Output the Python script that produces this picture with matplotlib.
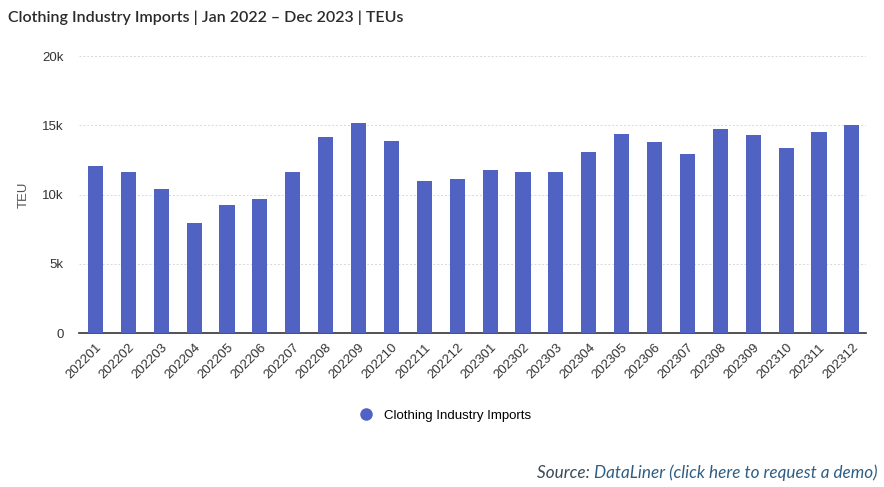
import matplotlib
matplotlib.use("Agg")
import matplotlib.pyplot as plt
from matplotlib.ticker import FuncFormatter
from matplotlib.lines import Line2D
from matplotlib.text import Annotation

months = ["202201", "202202", "202203", "202204", "202205", "202206",
          "202207", "202208", "202209", "202210", "202211", "202212",
          "202301", "202302", "202303", "202304", "202305", "202306",
          "202307", "202308", "202309", "202310", "202311", "202312"]
teus = [12070, 11660, 10430, 7980, 9280, 9710,
        11660, 14120, 15130, 13830, 10950, 11100,
        11750, 11600, 11600, 13090, 14340, 13810,
        12950, 14750, 14270, 13380, 14530, 15040]
series_name = "Clothing Industry Imports"
title = "Clothing Industry Imports | Jan 2022 \u2013 Dec 2023 | TEUs"

bar_color = "#5163c2"

fig = plt.figure(figsize=(8.84, 4.87), dpi=100)
ax = fig.add_axes([0.0894, 0.316, 0.8906, 0.569])

x = list(range(len(months)))
ax.bar(x, teus, width=0.46, color=bar_color, zorder=3)

ax.set_xlim(-0.5, len(months) - 0.56)
ax.set_ylim(0, 20000)
ax.set_yticks([0, 5000, 10000, 15000, 20000])
ax.yaxis.set_major_formatter(FuncFormatter(lambda v, p: "0" if v == 0 else f"{int(v/1000)}k"))
ax.grid(axis="y", color="#d8d8d8", linestyle=(0, (2, 2)), linewidth=0.7, zorder=0)

for s in ["top", "right", "left"]:
    ax.spines[s].set_visible(False)
ax.spines["bottom"].set_color("#333333")
ax.spines["bottom"].set_linewidth(1.2)

ax.tick_params(axis="y", length=0, pad=11, labelsize=9.5, labelcolor="#333333")
ax.tick_params(axis="x", length=0, pad=6, labelsize=9.5, labelcolor="#333333")
ax.set_xticks(x)
ax.set_xticklabels(months, rotation=45, ha="right", rotation_mode="anchor",
                   family="Liberation Sans")
for lbl in ax.get_yticklabels():
    lbl.set_family("Liberation Sans")

ax.set_ylabel("TEU", fontsize=9.5, color="#555555", family="Liberation Sans")
ax.yaxis.set_label_coords(-0.062, 0.5)

fig.text(0.009, 0.963, title, fontsize=11.5, color="#2b2b2b", family="Lato",
         weight="semibold", ha="left", va="center")

handle = Line2D([], [], marker="o", linestyle="none", markersize=8,
                markerfacecolor=bar_color, markeredgecolor=bar_color)
fig.legend([handle], [series_name], loc="center", bbox_to_anchor=(0.5, 0.146),
           frameon=False, handletextpad=0.3,
           prop={"family": "Liberation Sans", "size": 9.5})

t_link = fig.text(0.993, 0.029, "DataLiner (click here to request a demo)",
                  fontsize=12.3, color="#2f5e84", style="italic", family="Lato",
                  ha="right", va="center")
a = Annotation("Source: ", xy=(0, 0.5), xycoords=t_link, ha="right", va="center",
               fontsize=12.3, color="#3c4a57", style="italic", family="Lato")
fig.add_artist(a)

fig.savefig("out.png", dpi=100)
